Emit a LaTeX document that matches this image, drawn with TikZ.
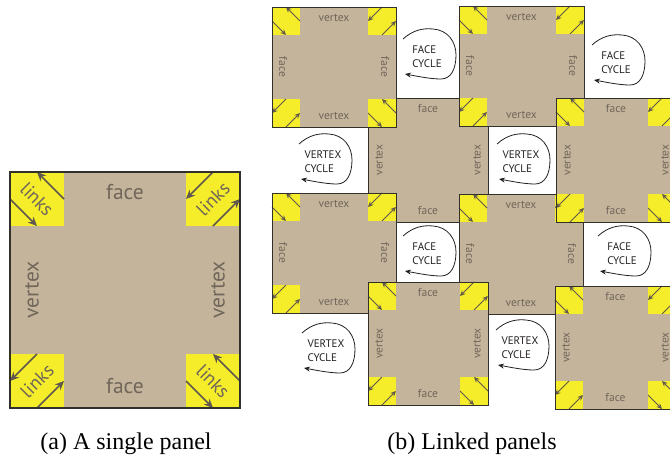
\documentclass[tikz,border=0pt]{standalone}
\usepackage{fontspec}
\setmainfont{Liberation Serif}
\newfontfamily\labelfont{PT Sans}
\usetikzlibrary{arrows.meta}

\definecolor{panelTan}{RGB}{196,180,155}
\definecolor{linkYellow}{RGB}{245,236,42}
\definecolor{labelGray}{RGB}{112,102,90}
\definecolor{arrowGray}{RGB}{96,88,78}
\definecolor{edgeDark}{RGB}{50,48,42}
\definecolor{cycleInk}{RGB}{35,31,32}

\tikzset{
  panelbody/.style={fill=panelTan},
  linkcorner/.style={fill=linkYellow},
  paneledge/.style={draw=edgeDark, line width=#1},
  linkarrow/.style={draw=arrowGray, line width=#1},
  bigtip/.style={-{Stealth[length=9pt,width=8pt]}},
  smalltip/.style={-{Stealth[length=5.5pt,width=5pt]}},
  biglabel/.style={text=labelGray, font=\labelfont\fontsize{21.5}{24}\selectfont, inner sep=0pt},
  linklabel/.style={text=labelGray, font=\labelfont\fontsize{19}{22}\selectfont, inner sep=0pt},
  smalllabel/.style={text=labelGray, font=\labelfont\fontsize{11.5}{13}\selectfont, inner sep=0pt},
  cyclelabel/.style={text=cycleInk, font=\labelfont\fontsize{11}{14}\selectfont, align=left, inner sep=0pt},
  cyclearrow/.style={draw=cycleInk, line width=0.8pt, -{Stealth[length=6pt,width=5pt]}},
  caption/.style={font=\fontsize{24}{28}\selectfont, inner sep=0pt, anchor=base},
  pics/cycle/.style={code={
    \node[cyclelabel] (-txt) at (-3,2) {#1};
    \draw[cyclearrow] (-27,-16) .. controls (-17,-25) and (-7,-27) .. (3,-26)
      .. controls (18,-25) and (26,-13) .. (26,0)
      .. controls (26,14) and (21,24) .. (11,24)
      .. controls (0,24) and (-14,21) .. (-25,19);
  }},
}

% two parallel link arrows in one corner; (#1,#2) is the outer corner,
% #3 turns the top-left pattern to the other corners, #4 is the corner size
\newcommand\linkpair[6]{%
  \begin{scope}[shift={(#1,#2)}, rotate=#3]
    \draw[linkarrow=#5, #6] (#4, 0.5*#4) -- (0.5*#4, 0);
    \draw[linkarrow=#5, #6] (0, 0.5*#4) -- (0.5*#4, #4);
  \end{scope}}

% panel body with its four yellow link corners
\newcommand\linkpanel[7]{%
  \fill[panelbody] (#1,#2) rectangle (#3,#4);
  \fill[linkcorner] (#1,#2) rectangle ++(#5,#5);
  \fill[linkcorner] (#3,#2) rectangle ++(-#5,#5);
  \fill[linkcorner] (#3,#4) rectangle ++(-#5,-#5);
  \fill[linkcorner] (#1,#4) rectangle ++(#5,-#5);
  \linkpair{#1}{#2}{0}{#5}{#6}{#7}
  \linkpair{#3}{#2}{-90}{#5}{#6}{#7}
  \linkpair{#3}{#4}{-180}{#5}{#6}{#7}
  \linkpair{#1}{#4}{90}{#5}{#6}{#7}}

% small labelled panel: name, corners, edge label, side label, side rotation
\newcommand\smallpanel[8]{%
  \linkpanel{#2}{#3}{#4}{#5}{28}{0.9pt}{smalltip}
  \node[smalllabel] (#1-n) at ({(#2+#4)/2}, #3+11) {#6};
  \node[smalllabel] (#1-s) at ({(#2+#4)/2}, #5-11) {#6};
  \node[smalllabel, rotate=#8] (#1-w) at (#2+11, {(#3+#5)/2}) {#7};
  \node[smalllabel, rotate=#8] (#1-e) at (#4-11, {(#3+#5)/2}) {#7};
  \draw[paneledge=0.9pt] (#2,#3) rectangle (#4,#5);}

\begin{document}
\begin{tikzpicture}[x=1pt, y=-1pt]
  \useasboundingbox (0,0) rectangle (670,458);
  \clip (0,0) rectangle (670,458);

  % (a) single panel
  \linkpanel{10}{172}{240}{408}{54}{1.5pt}{bigtip}
  \node[biglabel] (sp-n) at (125,192) {face};
  \node[biglabel] (sp-s) at (125,386) {face};
  \node[biglabel, rotate=90] (sp-w) at (32,290) {vertex};
  \node[biglabel, rotate=90] (sp-e) at (218,290) {vertex};
  \node[linklabel, rotate=-45] (sp-nw) at (37,199) {links};
  \node[linklabel, rotate=45] (sp-ne) at (213,199) {links};
  \node[linklabel, rotate=45] (sp-sw) at (37,381) {links};
  \node[linklabel, rotate=-45] (sp-se) at (213,381) {links};
  \draw[paneledge=1.6pt] (10,172) rectangle (240,408);

  % (b) linked panels, later ones lie over the shared corners
  \smallpanel{b2}{368}{98}{488}{222}{face}{vertex}{90}
  \smallpanel{a1}{272}{7}{396}{127}{vertex}{face}{-90}
  \smallpanel{c1}{459}{6}{584}{126}{vertex}{face}{-90}
  \smallpanel{a3}{272}{193}{396}{313}{vertex}{face}{-90}
  \smallpanel{c3}{459}{194}{583}{314}{vertex}{face}{-90}
  \smallpanel{d2}{556}{98}{676}{222}{face}{vertex}{90}
  \smallpanel{b4}{368}{282}{488}{405}{face}{vertex}{90}
  \smallpanel{d4}{555}{286}{676}{409}{face}{vertex}{90}

  % cycles through the gaps
  \pic (fc1) at (430,55) {cycle={FACE\\CYCLE}};
  \pic (fc2) at (619,61) {cycle={FACE\\CYCLE}};
  \pic (fc3) at (430,252) {cycle={FACE\\CYCLE}};
  \pic (fc4) at (625,252) {cycle={FACE\\CYCLE}};
  \pic (vc1) at (326,160) {cycle={VERTEX\\CYCLE}};
  \pic (vc2) at (524,160) {cycle={VERTEX\\CYCLE}};
  \pic (vc3) at (329,349) {cycle={VERTEX\\CYCLE}};
  \pic (vc4) at (523,346) {cycle={VERTEX\\CYCLE}};

  % captions
  \node[caption] (capa) at (126,449) {(a) A single panel};
  \node[caption] (capb) at (472,449) {(b) Linked panels};
\end{tikzpicture}
\end{document}
